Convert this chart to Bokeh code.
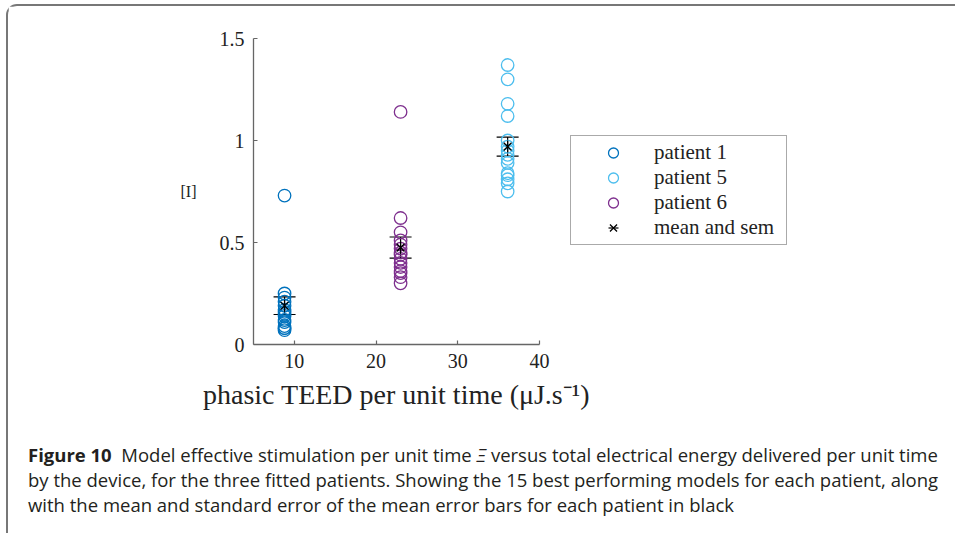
import math
from bokeh.plotting import figure
from bokeh.layouts import column
from bokeh.models import (ColumnDataSource, Whisker, TeeHead, Legend, LegendItem,
                          FixedTicker, Div)
from bokeh.embed import file_html
from bokeh.resources import INLINE

# ---------------- data ----------------
patients = ["patient 1", "patient 5", "patient 6"]
teed = [8.8, 36.1, 23.0]          # phasic TEED per unit time (uJ/s)
p1_vals = [0.73, 0.25, 0.23, 0.21, 0.19, 0.17, 0.16, 0.15, 0.14, 0.12, 0.11, 0.09, 0.08, 0.08, 0.07]
p5_vals = [1.37, 1.30, 1.18, 1.12, 1.00, 0.97, 0.95, 0.93, 0.91, 0.89, 0.84, 0.83, 0.81, 0.79, 0.75]
p6_vals = [1.14, 0.62, 0.55, 0.51, 0.49, 0.47, 0.45, 0.44, 0.42, 0.40, 0.38, 0.36, 0.35, 0.33, 0.30]
means = [0.19, 0.97, 0.475]
sems = [0.043, 0.047, 0.052]
colors = ["#0072BD", "#4DBEEE", "#7E2F8E"]
x_ticks = [10, 20, 30, 40]
y_ticks = [0, 0.5, 1, 1.5]
y_tick_labels = ["0", "0.5", "1", "1.5"]
x_label = "phasic TEED per unit time (\u03bcJ.s\u207b\u00b9)"
y_label = "[I]"
legend_mean = "mean and sem"
caption_head = "Figure 10"
caption_lines = [
    "Model effective stimulation per unit time <i>\u039e</i> versus total electrical energy delivered per unit time",
    "by the device, for the three fitted patients. Showing the 15 best performing models for each patient, along",
    "with the mean and standard error of the mean error bars for each patient in black",
]

SERIF = "Liberation Serif"
SANS = "Open Sans"

p = figure(frame_width=286, frame_height=306, x_range=(5, 40), y_range=(0, 1.5),
           output_backend="svg", toolbar_location=None,
           min_border_left=245, min_border_right=0,
           min_border_top=32, min_border_bottom=82)
p.outline_line_color = None
p.xgrid.visible = False
p.ygrid.visible = False
p.background_fill_color = "white"
p.border_fill_color = "white"

for ax in (p.xaxis[0], p.yaxis[0]):
    ax.axis_line_color = "#666"
    ax.axis_line_width = 1.3
    ax.major_tick_line_color = "#666"
    ax.major_tick_line_width = 1.2
    ax.major_tick_in = 4
    ax.major_tick_out = 0
    ax.minor_tick_line_color = None
    ax.major_label_text_font = SERIF
    ax.major_label_text_font_size = "20px"
    ax.major_label_text_color = "#222"

p.xaxis.ticker = FixedTicker(ticks=x_ticks)
p.yaxis.ticker = FixedTicker(ticks=y_ticks)
p.yaxis.major_label_overrides = {t: s for t, s in zip(y_ticks, y_tick_labels)}
p.xaxis.major_label_standoff = 9
p.yaxis.major_label_standoff = 9
p.xaxis.axis_label = x_label
p.xaxis.axis_label_text_font = SERIF
p.xaxis.axis_label_text_font_style = "normal"
p.xaxis.axis_label_text_font_size = "28px"
p.xaxis.axis_label_text_color = "#222"
p.xaxis.axis_label_standoff = 8
p.yaxis.axis_label = y_label
p.yaxis.axis_label_orientation = "horizontal"
p.yaxis.axis_label_text_font = SERIF
p.yaxis.axis_label_text_font_style = "normal"
p.yaxis.axis_label_text_font_size = "16px"
p.yaxis.axis_label_text_color = "#222"
p.yaxis.axis_label_standoff = 20

# ---------------- points ----------------
renderers = []
for vals, x, col in zip([p1_vals, p5_vals, p6_vals], teed, colors):
    src = ColumnDataSource(dict(x=[x] * len(vals), y=vals))
    r = p.scatter("x", "y", source=src, marker="circle", size=12.5,
                  fill_color=None, line_color=col, line_width=1.3)
    renderers.append(r)

# ---------------- mean and sem ----------------
msrc = ColumnDataSource(dict(x=teed, m=means,
                             lo=[m - s for m, s in zip(means, sems)],
                             hi=[m + s for m, s in zip(means, sems)]))
wh = Whisker(source=msrc, base="x", upper="hi", lower="lo", dimension="height",
             line_color="black", line_width=1.2,
             upper_head=TeeHead(size=22, line_color="black", line_width=1.2),
             lower_head=TeeHead(size=22, line_color="black", line_width=1.2))
p.add_layout(wh)
r_stem = p.scatter("x", "m", source=msrc, marker="dash", angle=math.pi / 2,
                   size=12, line_color="black", line_width=1.2)
r_x = p.scatter("x", "m", source=msrc, marker="x", size=11,
                line_color="black", line_width=1.3)

items = [LegendItem(label=lab, renderers=[r]) for lab, r in zip(patients, renderers)]
items.append(LegendItem(label=legend_mean, renderers=[r_stem, r_x]))
legend = Legend(items=items, location=(31, 99), orientation="vertical",
                label_text_font=SERIF, label_text_font_size="21px",
                label_text_color="#222",
                glyph_width=76, glyph_height=25, spacing=0, padding=4,
                margin=0, label_standoff=3, label_width=128,
                border_line_color="#555", border_line_width=1.2,
                background_fill_color="white", background_fill_alpha=1)
p.add_layout(legend, "right")

# ---------------- caption ----------------
cap_html = ('<div style="padding:11px 0 0 15px; line-height:25px; white-space:nowrap; '
            'color:#231f20;">'
            '<b>' + caption_head + '</b>&nbsp; ' + caption_lines[0] + '<br>'
            + caption_lines[1] + '<br>' + caption_lines[2] + '</div>')
cap = Div(text=cap_html, width=947, height=105,
          styles={"font-family": SANS, "font-size": "18.5px"})

lay = column(p, cap, spacing=0)
lay.styles = {"margin-left": "6px", "margin-top": "4px",
              "border-top": "2px solid #777", "border-left": "2px solid #777",
              "border-bottom": "2px solid #777",
              "border-top-left-radius": "11px", "border-bottom-left-radius": "11px"}

open("out.html", "w").write(file_html(lay, INLINE))
